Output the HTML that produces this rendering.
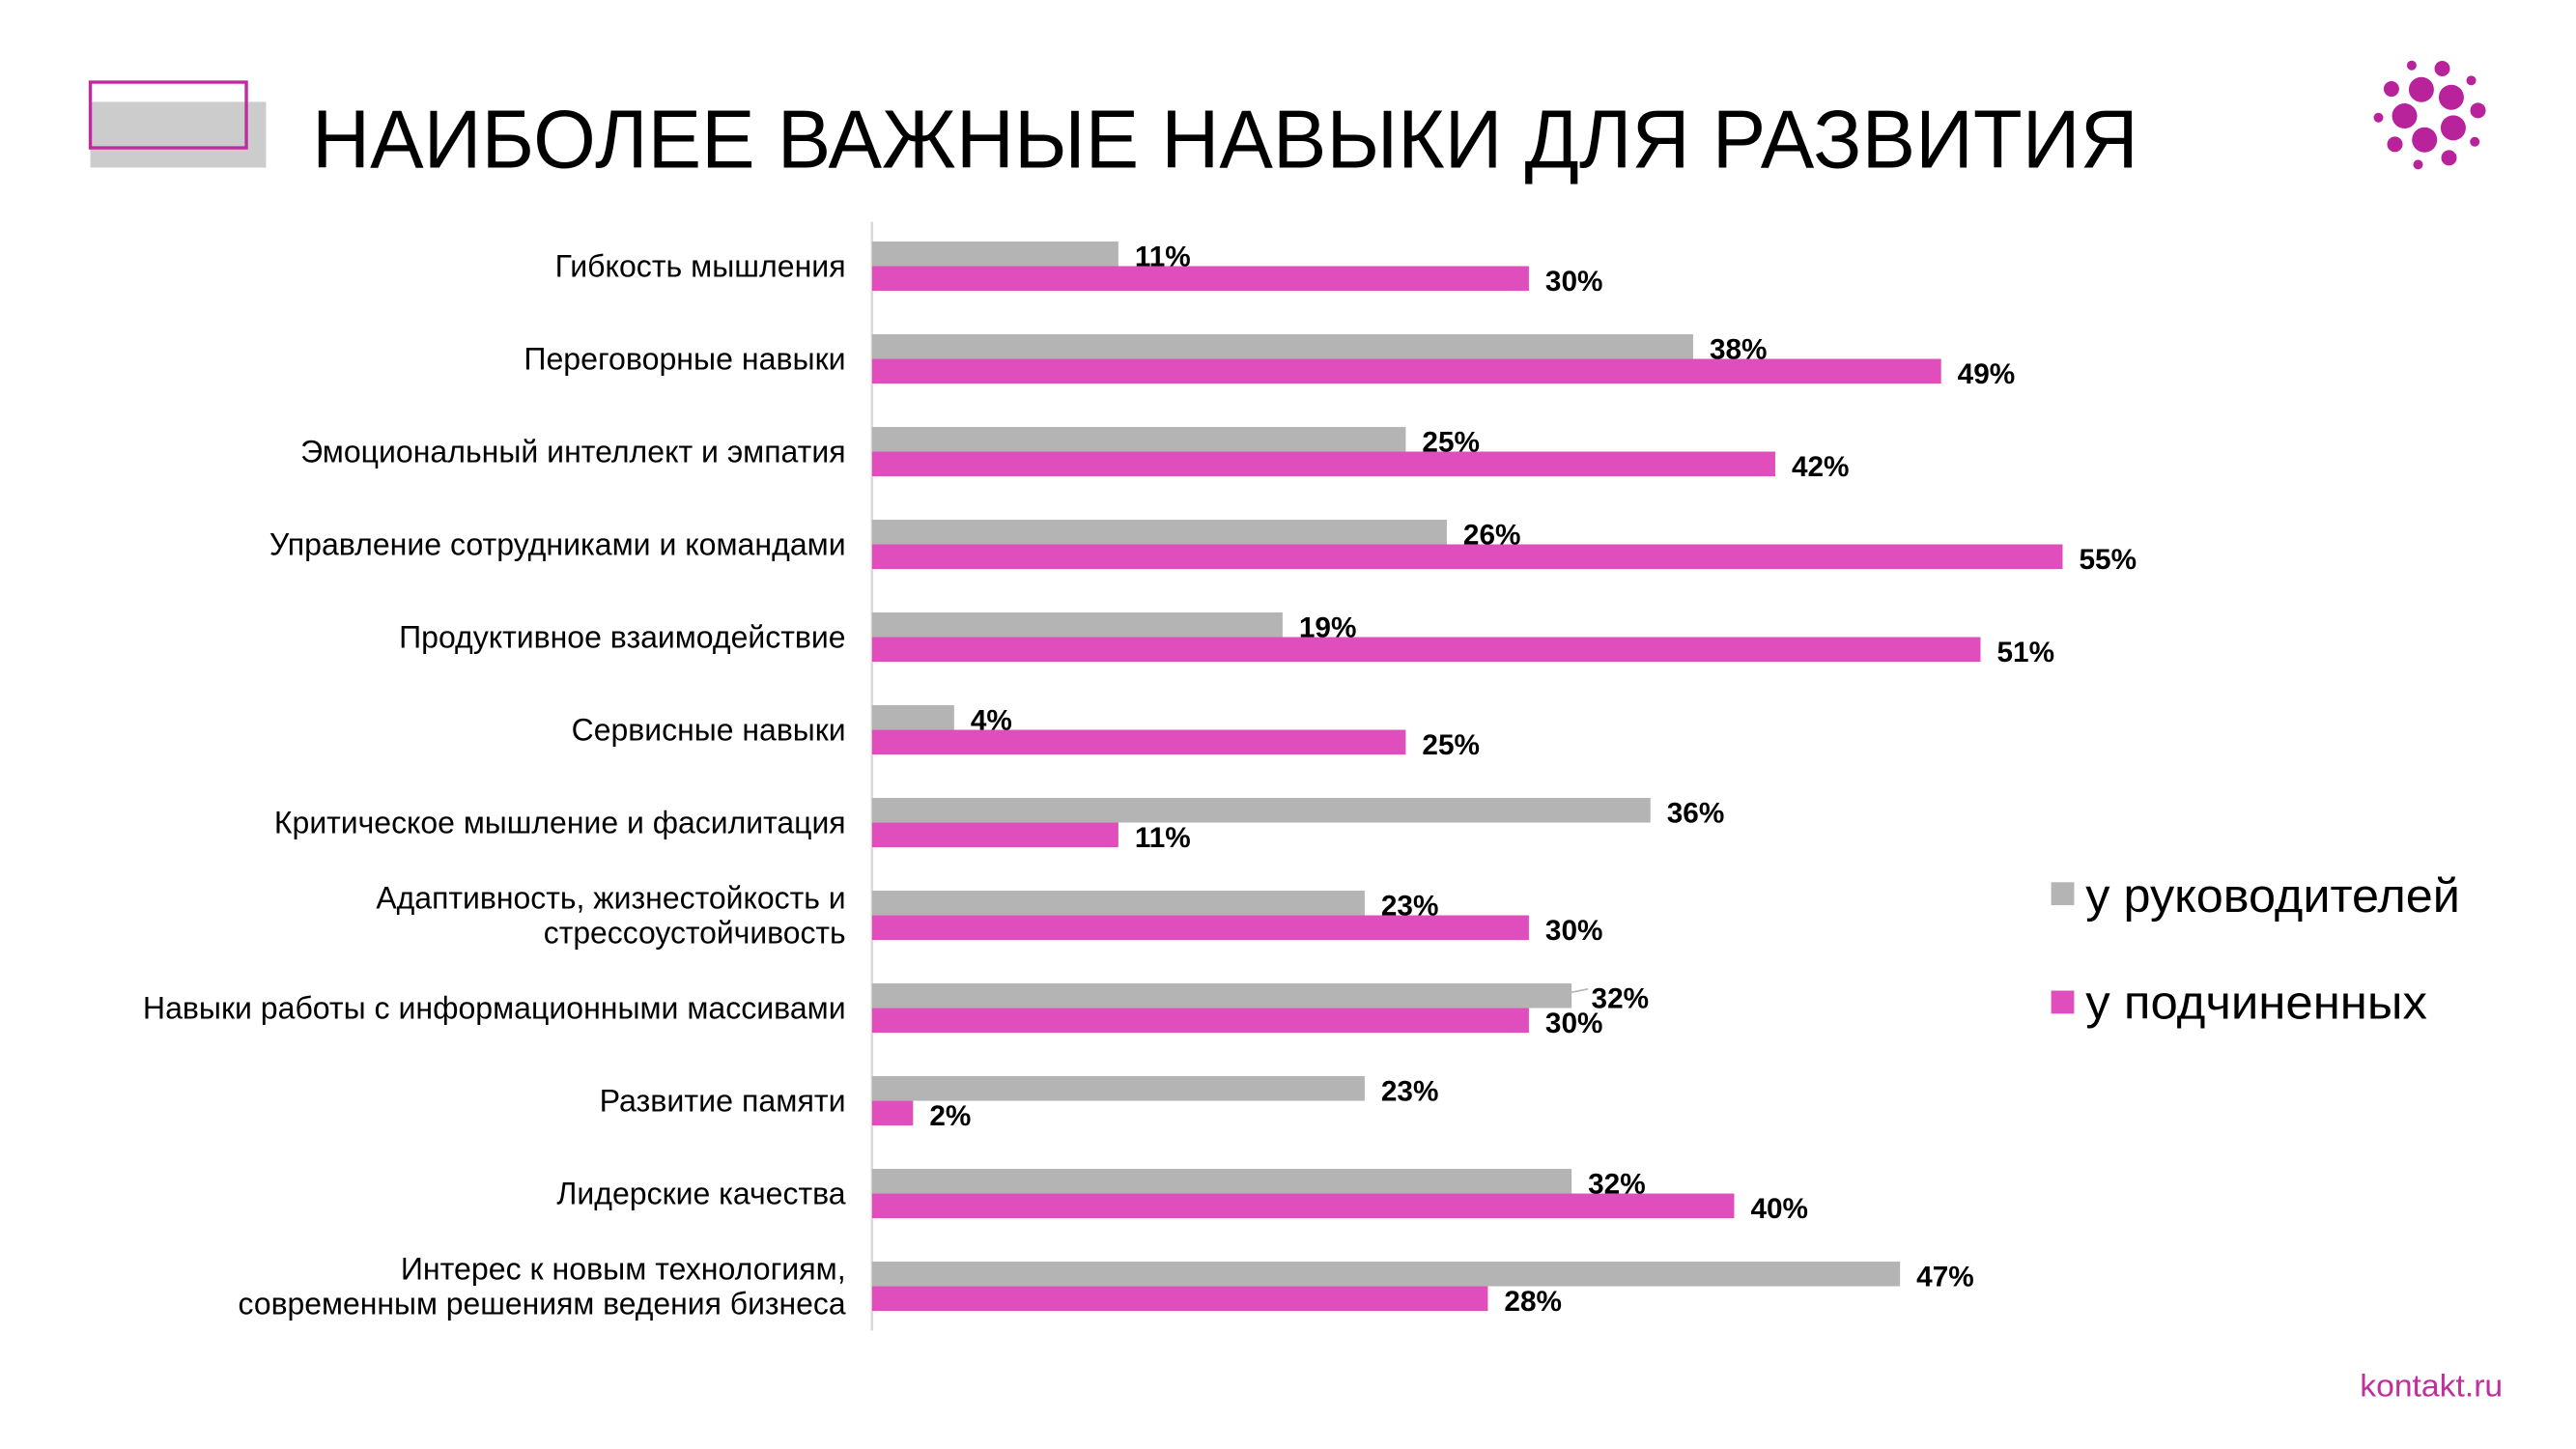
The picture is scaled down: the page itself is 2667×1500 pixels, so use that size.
<!DOCTYPE html>
<html><head><meta charset="utf-8"><style>
html,body{margin:0;padding:0;background:#fff;}
svg{display:block;}
text{font-family:"Liberation Sans",sans-serif;}
</style></head><body>
<svg width="2667" height="1500" viewBox="0 0 1568.6 882" preserveAspectRatio="none" xmlns="http://www.w3.org/2000/svg">
<rect width="1580" height="890" fill="#fff"/>
<rect x="55" y="62" width="107" height="40" fill="#cccccc"/>
<rect x="55" y="50" width="95" height="40" fill="none" stroke="#c02c9f" stroke-width="2"/>
<text x="190" y="102" font-size="50" textLength="1112" lengthAdjust="spacingAndGlyphs" fill="#000">НАИБОЛЕЕ ВАЖНЫЕ НАВЫКИ ДЛЯ РАЗВИТИЯ</text>
<g transform="scale(0.5882)" fill="#b8229a">
<circle cx="2496.7" cy="67.7" r="5"/><circle cx="2528.3" cy="71" r="8"/><circle cx="2558.3" cy="83.3" r="5"/>
<circle cx="2475.7" cy="92" r="8"/><circle cx="2506.7" cy="92.7" r="13"/><circle cx="2537.7" cy="100.7" r="13"/>
<circle cx="2565.3" cy="114.3" r="8"/><circle cx="2462.3" cy="121.7" r="5"/><circle cx="2489.3" cy="120" r="13"/>
<circle cx="2539.7" cy="132.3" r="13"/><circle cx="2510" cy="144.7" r="13"/><circle cx="2479.3" cy="149.3" r="8"/>
<circle cx="2562" cy="146.7" r="5"/><circle cx="2535.3" cy="163.3" r="8"/><circle cx="2503.3" cy="170.3" r="5"/>
</g>
<line x1="531" y1="135" x2="531" y2="810" stroke="#d9d9d9" stroke-width="1.5"/>
<g id="bars"></g>
<rect x="1249" y="537" width="14" height="14" fill="#b4b4b4"/>
<text x="1270" y="555" font-size="29" textLength="228" lengthAdjust="spacingAndGlyphs" fill="#000">у руководителей</text>
<rect x="1249" y="603" width="14" height="14" fill="#e04dbd"/>
<text x="1270" y="620" font-size="29" textLength="208" lengthAdjust="spacingAndGlyphs" fill="#000">у подчиненных</text>
<text x="1437" y="850" font-size="19" textLength="87" lengthAdjust="spacingAndGlyphs" fill="#c0309c">kontakt.ru</text>
<line x1="957" y1="604" x2="967" y2="602" stroke="#b4b4b4" stroke-width="1"/>
</svg>
<script>
var rows=[
[[["Гибкость мышления",338]],150,400,11,30],
[[["Переговорные навыки",319]],500,651,38,49],
[[["Эмоциональный интеллект и эмпатия",183]],325,550,25,42],
[[["Управление сотрудниками и командами",164]],350,725,26,55],
[[["Продуктивное взаимодействие",243]],250,675,19,51],
[[["Сервисные навыки",348]],50,325,4,25],
[[["Критическое мышление и фасилитация",167]],474,150,36,11],
[[["Адаптивность, жизнестойкость и",229],["стрессоустойчивость",331]],300,400,23,30],
[[["Навыки работы с информационными массивами",87]],426,400,32,30],
[[["Развитие памяти",365]],300,25,23,2],
[[["Лидерские качества",339]],426,525,32,40],
[[["Интерес к новым технологиям,",244],["современным решениям ведения бизнеса",145]],626,375,47,28]
];
var NS="http://www.w3.org/2000/svg",g=document.getElementById("bars");
function el(t,a,txt){var e=document.createElementNS(NS,t);for(var k in a)e.setAttribute(k,a[k]);if(txt!=null)e.textContent=txt;g.appendChild(e);return e;}
rows.forEach(function(r,i){
 var y=147+i*56.45;
 el("rect",{x:531,y:y,width:r[1],height:15,fill:"#b4b4b4"});
 el("rect",{x:531,y:y+15,width:r[2],height:15,fill:"#e04dbd"});
 var gx=531+r[1]+10; if(i==8) gx=969;
 el("text",{x:gx,y:y+15,"font-size":17.5,"font-weight":"bold",fill:"#000"},r[3]+"%");
 el("text",{x:531+r[2]+10,y:y+30,"font-size":17.5,"font-weight":"bold",fill:"#000"},r[4]+"%");
 var L=r[0];
 if(L.length==1){
  el("text",{x:515,y:y+21.5,"font-size":19,"text-anchor":"end",textLength:515-L[0][1],lengthAdjust:"spacingAndGlyphs",fill:"#000"},L[0][0]);
 }else{
  el("text",{x:515,y:y+11,"font-size":19,"text-anchor":"end",textLength:515-L[0][1],lengthAdjust:"spacingAndGlyphs",fill:"#000"},L[0][0]);
  el("text",{x:515,y:y+32,"font-size":19,"text-anchor":"end",textLength:515-L[1][1],lengthAdjust:"spacingAndGlyphs",fill:"#000"},L[1][0]);
 }
});
</script>
</body></html>
